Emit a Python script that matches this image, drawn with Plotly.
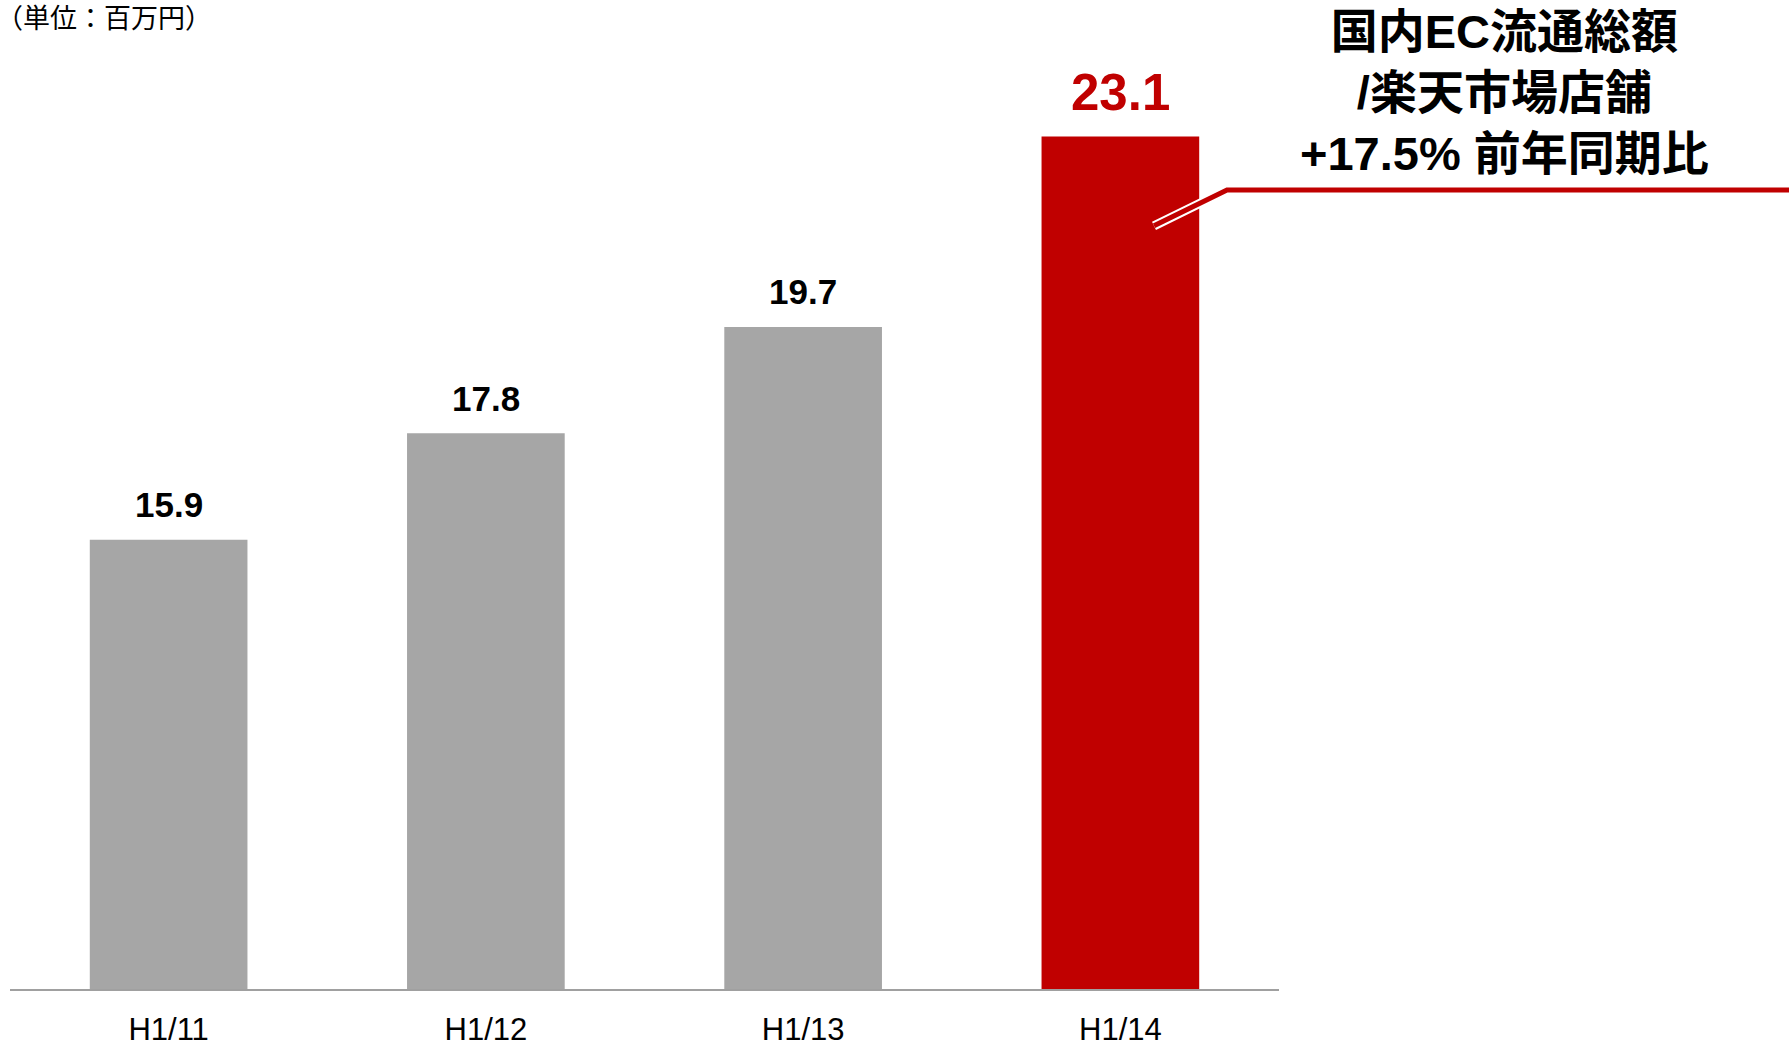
import plotly.graph_objects as go

categories = ["H1/11", "H1/12", "H1/13", "H1/14"]
values = [15.9, 17.8, 19.7, 23.1]
value_labels = ["15.9", "17.8", "19.7", "23.1"]
bar_colors = ["#A6A6A6", "#A6A6A6", "#A6A6A6", "#C00000"]
label_colors = ["#000000", "#000000", "#000000", "#C00000"]
label_sizes = [35, 35, 35, 51]
label_shifts = [35, 35, 35, 44]

unit_text = "（単位：百万円）"
callout_text = "<b>国内EC流通総額<br>/楽天市場店舗<br>+17.5% 前年同期比</b>"

W, H = 1789, 1047
L, R, T, B = 10, 510, 0, 53
pw, ph = W - L - R, H - T - B

def px_to_paper(x, y):
    return (x - L) / pw, (H - B - y) / ph

FONT = "Arial, 'Liberation Sans', 'Noto Sans CJK JP', sans-serif"
CJK = "'Noto Sans CJK JP', Arial, 'Liberation Sans', sans-serif"

fig = go.Figure()
fig.add_trace(go.Bar(
    x=categories, y=values,
    marker=dict(color=bar_colors, line=dict(width=0)),
    hoverinfo="skip",
))

for c, v, t, col, s, sh in zip(categories, values, value_labels, label_colors, label_sizes, label_shifts):
    fig.add_annotation(
        x=c, y=v, xref="x", yref="y", text="<b>%s</b>" % t, showarrow=False,
        yanchor="middle", xanchor="center", yshift=sh,
        font=dict(family=FONT, size=s, color=col),
    )

ux, uy = px_to_paper(-6, 16.5)
fig.add_annotation(
    x=ux, y=uy, xref="paper", yref="paper", text=unit_text, showarrow=False,
    xanchor="left", yanchor="middle",
    font=dict(family=CJK, size=27, color="#000000"),
)

cx, cy = px_to_paper(1504, 92.5)
fig.add_annotation(
    x=cx, y=cy, xref="paper", yref="paper", text=callout_text, showarrow=False,
    xanchor="center", yanchor="middle", align="center",
    font=dict(family=FONT, size=47, color="#000000"),
)

pts = [px_to_paper(1154, 227), px_to_paper(1227, 191), px_to_paper(1789, 191)]
path = "M %f %f L %f %f L %f %f" % (pts[0][0], pts[0][1], pts[1][0], pts[1][1], pts[2][0], pts[2][1])
fig.add_shape(type="path", path=path, xref="paper", yref="paper",
              line=dict(color="#FFFFFF", width=9))
fig.add_shape(type="path", path=path, xref="paper", yref="paper",
              line=dict(color="#C00000", width=5))

ymin = 7.88
ymax = ymin + ph / 56.3
fig.update_layout(
    width=W, height=H,
    margin=dict(l=L, r=R, t=T, b=B),
    paper_bgcolor="white", plot_bgcolor="white",
    bargap=0.503,
    showlegend=False,
    xaxis=dict(
        showline=True, linecolor="#A0A0A0", linewidth=2,
        showgrid=False, ticks="", ticklabelstandoff=12,
        tickfont=dict(family=FONT, size=31, color="#000000"),
    ),
    yaxis=dict(range=[ymin, ymax], visible=False, showgrid=False, zeroline=False),
)

fig.write_html(
    "out.html",
    config={"displayModeBar": False},
    post_script="document.body.style.margin='0px';"
                "document.documentElement.style.overflow='hidden';",
)
